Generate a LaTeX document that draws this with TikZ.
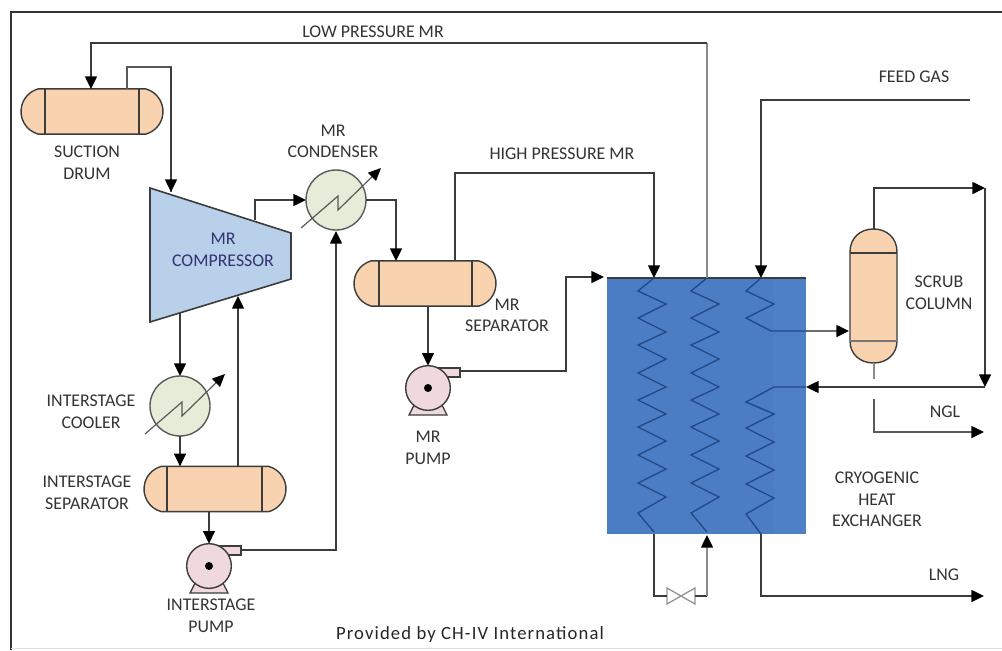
\documentclass[tikz,border=0pt]{standalone}
\usepackage{fontspec}
\setmainfont{Carlito}
\usetikzlibrary{arrows.meta,shapes.misc,calc}
\definecolor{ln}{HTML}{3C3C3C}
\definecolor{peach}{HTML}{F9D3B0}
\definecolor{cool}{HTML}{E5ECD8}
\definecolor{pink}{HTML}{EFD9DC}
\definecolor{comp}{HTML}{B9D0EA}
\definecolor{hx}{HTML}{4A7DC3}
\definecolor{hxb}{HTML}{4D80C5}
\definecolor{coil}{HTML}{234888}
\definecolor{lab}{HTML}{333333}
\tikzset{
  pipe/.style={draw=ln,line width=1.05pt,line join=miter},
  gpipe/.style={draw=ln!60,line width=1.05pt},
  flow/.style={pipe,-{Triangle[length=9.5pt,width=9pt,color=black]}},
  gflow/.style={gpipe,-{Triangle[length=9.5pt,width=9pt,color=black]}},
  lbl/.style={font=\fontsize{13.4}{16.2}\selectfont,text=lab,align=center,inner sep=0pt},
  vesselbody/.style={rounded rectangle,rounded rectangle arc length=150,draw=ln,line width=1.05pt,fill=peach,
     minimum width=106.5pt,minimum height=34pt,inner sep=0pt,outer sep=0pt},
  coolerbody/.style={circle,draw=ln!85,line width=1.05pt,fill=cool,minimum size=45pt,inner sep=0pt,outer sep=0pt},
  pumpbody/.style={circle,draw=ln,line width=1.05pt,fill=pink,minimum size=33.5pt,inner sep=0pt,outer sep=0pt},
  coilline/.style={draw=coil,line width=1pt,line join=miter},
}
\newcommand{\vessel}[5]{% name, cx, cy, left-line offset, right-line offset
  \node[vesselbody] (#1) at (#2,#3) {};
  \draw[ln,line width=1.05pt] ($(#1.north)+(#4,0)$) -- ($(#1.south)+(#4,0)$);
  \draw[ln,line width=1.05pt] ($(#1.north)+(#5,0)$) -- ($(#1.south)+(#5,0)$);
}
\newcommand{\cooler}[3]{%
  \node[coolerbody] (#1) at (#2,#3) {};
  \draw[ln!85,line width=.9pt,-{Triangle[length=9.5pt,width=8.5pt,color=black]}]
    ($(#1)+(-35,28)$) -- ($(#1)+(2,-4)$) -- ($(#1)+(2,10)$) -- ($(#1)+(45,-32)$);
}
\newcommand{\pump}[3]{%
  \draw[ln,line width=1pt,fill=pink] ($(#2,#3)+(-19,27)$) -- ($(#2,#3)+(-13,15)$) -- ($(#2,#3)+(13,15)$) -- ($(#2,#3)+(19,27)$) -- cycle;
  \draw[ln,line width=1pt,fill=pink] ($(#2,#3)+(0,-20)$) rectangle ($(#2,#3)+(32,-11)$);
  \node[pumpbody] (#1) at (#2,#3) {};
  \fill[black] (#1) circle[radius=4];
}
\begin{document}
\begin{tikzpicture}[x=0.75pt,y=-0.75pt]
\useasboundingbox (0,0) rectangle (1002,650);
% frame
\draw[ln!85!black,line width=1.6pt] (11,650) -- (11,12) -- (1002,12);
\draw[black!12,line width=.8pt] (11,648.5) -- (1002,648.5);

% exchanger
\node[fill=hx,draw=none,minimum width=149.25pt,minimum height=192pt,inner sep=0pt,outer sep=0pt] (hxr) at (706.5,406) {};
\fill[hxb] (774,278) rectangle (806,534);
\draw[ln,line width=.9pt] (hxr.north west) -- (hxr.north east);
% coils
\foreach \cx/\nm in {654/a,707/b}{
  \draw[coilline] (\cx,278) -- ++(-16,13) -- ++(28,13) -- ++(-28,14) -- ++(28,14) -- ++(-28,13) -- ++(28,14)
   -- ++(-28,14) -- ++(28,14) -- ++(-28,13) -- ++(28,14) -- ++(-28,13) -- ++(28,14) -- ++(-28,14) -- ++(28,14)
   -- ++(-28,14) -- ++(28,14) -- ++(-28,16) -- ++(16,19);
}
\draw[coilline] (761,278) -- (746,291) -- (774,304) -- (746,318) -- (771,331) -- (806,331);
\draw[coilline] (806,387) -- (774,387) -- (746,402) -- (774,414) -- (746,428) -- (774,442) -- (746,456) -- (774,470) -- (746,484) -- (774,498) -- (746,514) -- (761,534);

% column
\node[fill=none,draw=none,minimum width=35.25pt,minimum height=100.5pt,inner sep=0pt,outer sep=0pt] (col) at (873.5,296) {};
\draw[ln,line width=1.05pt,fill=peach] (850,252) .. controls (850,238) and (860,229) .. (873.5,229)
   .. controls (887,229) and (897,238) .. (897,252) -- (897,341)
   .. controls (897,354) and (887,363) .. (873.5,363) .. controls (860,363) and (850,354) .. (850,341) -- cycle;
\draw[ln,line width=1pt] (850,253) -- (897,253);
\draw[ln!70,line width=.9pt] (850,341) -- (897,341);

% vessels
\vessel{sd}{92}{111.5}{-47}{47}
\vessel{ms}{425}{283.5}{-46}{47}
\vessel{is}{215}{489}{-48}{47}

% compressor
\draw[ln,line width=1.2pt,fill=comp] (150,188) -- (291,233) -- (291,279) -- (150,322) -- cycle;
\node[lbl,text=black!70!blue!80!white] (compt) at (223,250) {MR\\COMPRESSOR};
\coordinate (cmpIn) at (171,192);
\coordinate (cmpOut) at (255,220);
\coordinate (cmpLow) at (180,313);
\coordinate (cmpRet) at (238,296);

% coolers and pumps
\cooler{cd}{336}{200}
\cooler{ic}{180}{406}
\pump{mp}{428}{388}
\pump{ip}{209}{566}

% valve
\coordinate (vL) at (667,596);
\coordinate (vR) at (695,596);
\draw[ln!55,line width=1pt,fill=white] (667,588) -- (695,604) -- (695,588) -- (667,604) -- cycle;

% ports
\coordinate (lpA) at (707,278);
\coordinate (lpB) at (707,43);
\coordinate (lpC) at (91,43);
\coordinate (sdTop) at (91,89);
\coordinate (sdOut) at (127,89);
\coordinate (sdB) at (127,67);
\coordinate (sdC) at (171,67);
\coordinate (cdOutB) at (396,200);
\coordinate (msIn) at (396,261);
\coordinate (hpA) at (455,261);
\coordinate (hpB) at (455,173);
\coordinate (hpC) at (654,173);
\coordinate (hxH) at (654,278);
\coordinate (fg) at (970,100);
\coordinate (fgB) at (761,100);
\coordinate (hxF) at (761,278);
\coordinate (mpN) at (460,371);
\coordinate (mpB) at (566,371);
\coordinate (mpC) at (566,277);
\coordinate (hxM) at (604,277);
\coordinate (ipN) at (241,550);
\coordinate (ipB) at (336,550);
\coordinate (cdS) at (336,231);
\coordinate (colTop) at (874,229);
\coordinate (colB) at (874,188);
\coordinate (colC) at (985,188);
\coordinate (colBot) at (874,363);
\coordinate (colBotE) at (874,379);
\coordinate (nglA) at (874,399);
\coordinate (nglB) at (874,432);
\coordinate (nglC) at (984,432);
\coordinate (rtn) at (985,387);
\coordinate (hxRtn) at (806,387);
\coordinate (hxFeedOut) at (806,331);
\coordinate (colIn) at (849,331);
\coordinate (lngA) at (761,534);
\coordinate (lngB) at (761,596);
\coordinate (lngC) at (984,596);
\coordinate (vaA) at (654,534);
\coordinate (vaB) at (654,596);
\coordinate (vbA) at (707,596);
\coordinate (vbB) at (707,535);

% connectors
\draw[gpipe] (lpA) -- (lpB);
\draw[flow] (lpB) -- (lpC) -- (sdTop);
\draw[pipe,draw=ln!85] (sdOut) -- (sdB) -- (sdC) -- (cmpIn);
\draw[flow] (sdC) -- (cmpIn);
\draw[flow] (cmpOut) -- (255,200) -- (cd.west);
\draw[flow] (cd.east) -- (cdOutB) -- (msIn);
\draw[flow] (hpA) -- (hpB) -- (hpC) -- (hxH);
\draw[flow] (fg) -- (fgB) -- (hxF);
\draw[flow] (ms.south -| mp) -- (mp.north);
\draw[flow] (mpN) -- (mpB) -- (mpC) -- (hxM);
\draw[flow] (ipN) -- (ipB) -- (cdS);
\draw[flow] (cmpLow) -- (ic.north);
\draw[flow] (ic.south) -- (is.north -| ic);
\draw[flow] (is.north -| cmpRet) -- (cmpRet);
\draw[flow] (is.south -| ip) -- (ip.north);
\draw[flow] (colTop) -- (colB) -- (colC);
\draw[flow] (colC) -- (rtn);
\draw[flow] (rtn) -- (hxRtn);
\draw[gflow,draw=ln!75] (hxFeedOut) -- (colIn);
\draw[gpipe] (colBot) -- (colBotE);
\draw[flow,draw=ln!85] (nglA) -- (nglB) -- (nglC);
\draw[flow] (lngA) -- (lngB) -- (lngC);
\draw[pipe] (vaA) -- (vaB) -- (vL);
\draw[pipe] (vR) -- (vbA);
\draw[gflow] (vbA) -- (vbB);

% labels
\node[lbl] (t1) at (373,32) {LOW PRESSURE MR};
\node[lbl] (t2) at (87,163) {SUCTION\\DRUM};
\node[lbl] (t3) at (333,141.5) {MR\\CONDENSER};
\node[lbl] (t4) at (562,154) {HIGH PRESSURE MR};
\node[lbl] (t5) at (914,77) {FEED GAS};
\node[lbl] (t6) at (939,293) {SCRUB\\COLUMN};
\node[lbl] (t7) at (507,315.5) {MR\\SEPARATOR};
\node[lbl] (t8) at (945,412) {NGL};
\node[lbl] (t9) at (944,575) {LNG};
\node[lbl] (t10) at (877,499.5) {CRYOGENIC\\HEAT\\EXCHANGER};
\node[lbl] (t11) at (91,411.5) {INTERSTAGE\\COOLER};
\node[lbl] (t12) at (87,493) {INTERSTAGE\\SEPARATOR};
\node[lbl] (t13) at (211,616) {INTERSTAGE\\PUMP};
\node[lbl] (t14) at (428,448) {MR\\PUMP};
\node[lbl,text=black!85,font=\fontsize{14}{16}\selectfont\addfontfeatures{LetterSpace=6}] (t15) at (470,635) {Provided by CH-IV International};
\end{tikzpicture}
\end{document}
